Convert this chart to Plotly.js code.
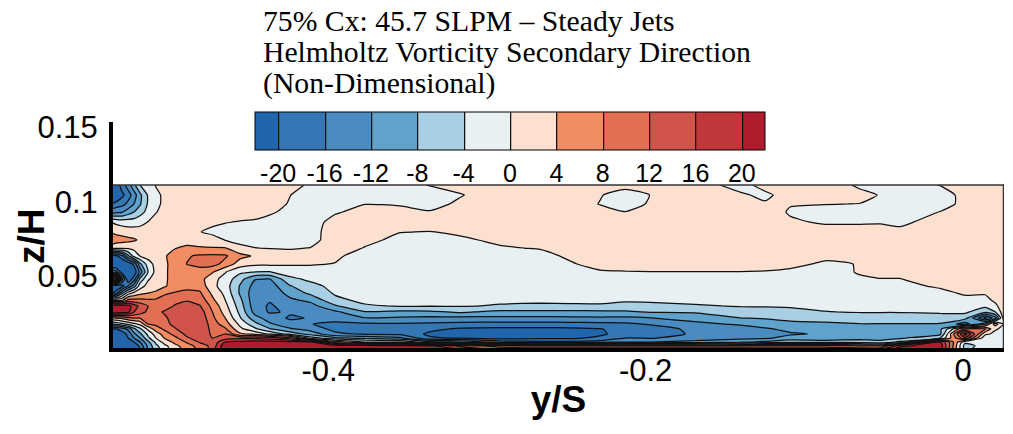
<!DOCTYPE html>
<html><head><meta charset="utf-8">
<script src="https://cdn.plot.ly/plotly-3.0.1.min.js"></script>
<style>html,body{margin:0;padding:0;background:#fff;overflow:hidden}#chart{width:1013px;height:434px}</style>
</head><body><div id="chart"></div>
<script>
var titleLines = ["75% Cx: 45.7 SLPM \u2013 Steady Jets", "Helmholtz Vorticity Secondary Direction", "(Non-Dimensional)"];
var xTickVals = [-0.4, -0.2, 0];
var xTickText = ["-0.4", "-0.2", "0"];
var yTickVals = [0.05, 0.1, 0.15];
var yTickText = ["0.05", "0.1", "0.15"];
var barTickVals = [-20, -16, -12, -8, -4, 0, 4, 8, 12, 16, 20];
var barTickText = ["-20", "-16", "-12", "-8", "-4", "0", "4", "8", "12", "16", "20"];
var bandColors = ["#2166ac", "#3576b5", "#4a8cc1", "#5fa3cd", "#a8cfe4", "#e9f0f4", "#fde0d0", "#f28c62", "#e26f54", "#d1544a", "#c13639", "#b01c2e"];

var spanY = [-0.5369,-0.5337,-0.5299,-0.5261,-0.5224,-0.5186,-0.5135,-0.5085,-0.5028,-0.4965,-0.4890,-0.4808,-0.4732,-0.4650,-0.4556,-0.4461,-0.4367,-0.4241,-0.4115,-0.3957,-0.3768,-0.3548,-0.3359,-0.3169,-0.2917,-0.2665,-0.2476,-0.2287,-0.2130,-0.1972,-0.1689,-0.1405,-0.1248,-0.1090,-0.0870,-0.0649,-0.0523,-0.0397,-0.0145,0.0013,0.0139,0.0202,0.0258];
var heightZ = [0,0.0034,0.0060,0.0087,0.0114,0.0148,0.0181,0.0221,0.0262,0.0302,0.0342,0.0389,0.0436,0.0483,0.0530,0.0584,0.0638,0.0691,0.0745,0.0799,0.0866,0.0933,0.0987,0.1047,0.1114];

// One profile per spanwise station, listed from the wall upward.
var profiles = [
[-26,-26,-26,-26,-24,-21,-8,3,24,24,3,-22,-24,24,-12,-26,-23,1.5,7.5,3.8,0,-14,-20,-26,-25],
[-26,-26,-26,-26,-23,-20,-7,4,23,23,2.5,-18,-24,21,-14,-26,-21,1,6,3,-1,-13,-18.5,-25,-23],
[-26,-26,-26,-24,-22,-18,-5,5,22,23,3,-9,-22,-10,-22,-25,-17,0.8,5.5,2.5,-1.7,-12.3,-17.5,-21,-18],
[-26,-26,-24,-20,-19,-15,-3,7,21,22,9,-2,-16,-24,-25,-23,-9,0.8,5,2,-2,-10,-15,-18,-14],
[-25,-23,-20,-16,-13,-9,-1,8,16,18,9,1,-10,-18,-23,-19,-2.5,1,4.5,2,-2,-8,-12,-14,-9],
[-21,-19,-16,-12,-9,-5,1,8,14,15,9,2.8,-2,-7,-15,-9,0.1,1.5,3.5,2,-1.5,-5.5,-8.5,-9,-4],
[-12,-11,-9,-5,-3,1,8,9,11,12,8.5,4,1.5,-0.5,-4,-2,1.7,2,2.5,2,0.1,-2.8,-3.5,-3.5,-2.3],
[-6,-5,-3,0.1,2,6,9,10,11,11,8.6,4.5,2.8,2,1.5,1.5,3,2.5,2.5,2.5,1.5,-0.2,-1,-1,0.3],
[-2,-1,2,4.5,6,9,11,11.5,12.5,10.5,9.5,7.5,3.6,3.5,3.5,3.5,3.8,3,2.5,2.5,2.5,1.5,1,1,2],
[2,3,5,7,9.5,11.7,13,13.5,14,12.3,11,8.3,6,5.5,5.5,5.3,5,3.9,3,2.5,2.5,2.5,2.5,2.5,2.5],
[5,6,8.5,11.5,13,14,14.5,15,15,14,11.5,8.8,7,6,6.5,8.1,7.6,4.5,3,2.5,2.5,2.5,2.5,2.5,2.5],
[8.5,10,12.5,14,14.5,15,15.5,15,14,12.2,10.5,8.5,6.5,5.5,6.5,9,8.6,4.2,3,0.1,2,2.5,2.5,2.5,2.5],
[14,13,12.5,12,11.5,11,10.2,9,8.2,7,5,3.3,1.3,1.5,4.5,9.4,8.8,4.2,1.5,-0.8,0.8,2.5,2.5,2.5,2.5],
[24,23,20,14,12,8.7,6,4.1,2.5,1.3,0.1,-1,-2,-1.5,0.3,6.8,8.6,4.2,-0.1,-1.3,0.2,2,2.5,2.5,2.5],
[25,24,21,15,4.7,1,-1,-3.6,-5,-6,-7,-8.5,-8.3,-6.5,-3.2,2,5.3,0.8,-1,-1.7,-0.2,1.5,2.5,2.5,2.5],
[25,24,22,15,3,-3.3,-6.7,-10.5,-13.5,-14.5,-14.8,-14.5,-13.5,-11.8,-4.1,0.8,3.5,0.1,-1.5,-1.8,-0.5,1.5,2.5,2.5,2.5],
[25,24,22,14,-0.5,-7.7,-11.5,-14,-16.5,-16.5,-15.7,-15,-14,-12.1,-4.2,0.8,2.5,-0.2,-1.5,-1.7,-1,0.4,2,2.5,2.5],
[25,24,21,10,-5.5,-11.5,-14.5,-16.5,-15.5,-14.2,-12.8,-10.5,-8.3,-5,-2,0.4,1.5,-0.3,-1.7,-2,-1.5,-0.8,-0.4,0.1,2],
[25,23.5,20.5,-1.5,-9.5,-13.5,-15.9,-15.8,-15,-13.7,-11,-7.2,-5.3,-3.2,-1.5,0.3,1.5,0.1,-1.8,-2,-2,-2,-2,-2,-0.8],
[25,23,6,-7,-15,-17.3,-16.7,-14.8,-12.8,-8.5,-5,-3.5,-2.8,-2,-1.5,-0.1,0.5,2,2.5,2.5,1.5,-0.5,-2,-2,-1.5],
[25,22.5,0.1,-9,-16.5,-17.5,-16.6,-12.2,-8.2,-4.5,-3,-2.5,-2.5,-2.5,-2.2,-1.8,-1.2,-0.2,1,2.5,2.5,1.5,-0.1,-2,-1.5],
[24,22,0.1,-11,-17,-18,-16.5,-12.5,-9,-3.7,-3,-2.5,-2.5,-2.5,-2.3,-2,-1.8,-1.5,-1,0.1,2,1.2,-0.4,-2,-1.5],
[23,21,-7,-19.5,-20.8,-18.8,-16.8,-13,-8.7,-3.8,-3,-2.5,-2.5,-2.5,-2.4,-2,-1.8,-1.6,-1.2,-0.1,2,0.3,-1.5,-2,0.2],
[22,15,-8,-20.5,-22,-20.6,-17.2,-13,-7.5,-3.7,-3,-2.7,-2.6,-2.5,-2.4,-2.1,-1.8,-1.6,-0.5,0.5,2.5,2.5,0.8,-0.3,1.5],
[18,10,-14,-21.5,-22.5,-21,-17.5,-13,-9,-4.3,-3.3,-2.8,-2.6,-2.5,-2.3,-1.8,-1.2,-0.3,0.6,2.5,2.5,2.5,2.5,2.5,2.5],
[18,10,-15,-21,-22.5,-21,-17.5,-13,-9,-4.6,-3.3,-2.8,-2.6,-2.5,-2.2,-1.5,-0.9,0.2,1.5,2.5,2.5,2.5,2.5,2.5,2.5],
[18,10,-15,-20.7,-22,-20.8,-17.3,-12.8,-9,-4.5,-3.3,-2.8,-2.6,-2.5,-1.5,-0.3,0.5,1.5,2.5,2.5,2.5,2.5,2.5,2.5,2.5],
[18,10,-14.5,-19,-20.8,-20.2,-17,-12.6,-8.8,-4.4,-3.3,-2.7,-2.4,-1,-0.3,1,2,2.5,2.5,2.5,2.5,1.5,-0.2,0.3,2.5],
[18,10,-12,-16,-18,-18.5,-16.7,-12.8,-8.6,-5.5,-3.3,-2.6,-2.2,-1.2,-0.2,1.5,2.5,2.5,2.5,2.5,2.5,0.1,-2,-2,1.5],
[18,10,-12,-16.3,-17.8,-17.5,-15.7,-12.1,-7.7,-5,-3.4,-2.7,-2,-1,-0.1,1.5,2.5,2.5,2.5,2.5,2.5,2.5,0.5,0.05,2],
[18,10,-11,-14,-15.5,-15.2,-13,-10.5,-7.5,-4.3,-3.2,-2.6,-2,-1,-0.1,1.5,2.5,2.5,2.5,2.5,2.5,2.5,2.5,2.5,2.5],
[18,10,-9,-13,-14.3,-13.8,-11.5,-8.1,-5.7,-3.8,-3,-2.5,-2,-1,-0.1,1.5,2.5,2.5,2.5,2.5,2.5,2.5,2.5,0.8,-2],
[18,10,-7,-12.7,-13.2,-12.5,-10,-7.7,-5.6,-3.7,-3,-2.5,-2,-1,-0.2,1.2,2.5,2.5,2.5,2.5,2.5,2.5,0.6,-1.2,2],
[18,10,-5,-10.5,-12.5,-11,-9,-7,-4.8,-3.7,-3,-2.5,-1.8,-1,-0.5,0.7,2.2,2.5,2.5,2.5,0.7,-0.5,0.3,2.5,2.5],
[18,10,-5,-11.8,-11.5,-10,-8.7,-6.5,-4.1,-3.3,-2.8,-2.3,-1.8,-1.3,-1,-0.4,0.6,2.3,2.5,2,-0.6,-1.8,0.2,2.5,2.5],
[18,8,-6,-9.5,-9.8,-9.2,-8.1,-6,-3.8,-3.2,-2.7,-2.2,-1.7,-0.3,0.2,0.1,2,2.5,2.5,2,-0.6,-2,-0.1,1.2,-0.8],
[18,8,-7,-9.3,-9.7,-9.2,-8.1,-6,-3.8,-3,-2.5,-1.7,-0.8,-0.1,1,2,2.5,2.5,2.5,1.2,-0.3,-2,-2,-0.2,-1.5],
[24,19,-3,-8.7,-9.5,-9,-8.1,-6,-3.8,-3,-2.5,-1.6,-0.8,-0.1,1,2,2.5,2.5,2.5,0.9,-0.8,-2,-2,-2,-1.5],
[20,23,20.5,-4.1,-9,-9,-8.3,-5.5,-3.5,-2.8,-2,-0.8,0.4,1.8,2.5,2.5,2.5,2.5,2.5,2.5,1.5,0.1,-1.5,-1.5,0.1],
[-4.5,-6,-3,15,22,8.5,-14,-6.5,-3.2,-2,-0.8,0.4,1.5,2.2,2.5,2.5,2.5,2.5,2.5,2.5,2.5,2.5,1,1,2.5],
[-2,-2,-2.5,-3,1,8.5,-5,-21,-7,-3,-1.2,0.4,1.5,2.5,2.5,2.5,2.5,2.5,2.5,2.5,2.5,2.5,2.5,2.5,2.5],
[-1.5,-1.5,-1.5,-1.5,-1,0.5,6,-14,-4.1,-1,0.8,1.8,2.3,2.5,2.5,2.5,2.5,2.5,2.5,2.5,2.5,2.5,2.5,2.5,2.5],
[-1,-1,-1,-1,-1,-1,-0.5,2,2.5,2.5,2.5,2.5,2.5,2.5,2.5,2.5,2.5,2.5,2.5,2.5,2.5,2.5,2.5,2.5,2.5]
];
var topEdgeX = [-0.5369, 0.0258];
var topEdgeZ = [0.1114, 0.1114];
var rightEdgeX = [0.0258, 0.0258];
var rightEdgeZ = [0.1114, 0];

var grid = heightZ.map(function (_, r) { return profiles.map(function (p) { return p[r]; }); });
var colorscale = bandColors.map(function (c, i) { return [i / (bandColors.length - 1), c]; });

var field = {
  type: "contour", x: spanY, y: heightZ, z: grid,
  autocontour: false, zmin: -22, zmax: 22,
  contours: {start: -20, end: 20, size: 4, coloring: "fill", showlines: true},
  line: {color: "#111", width: 1.25, smoothing: 0.5},
  colorscale: colorscale, hoverinfo: "skip",
  colorbar: {
    orientation: "h", lenmode: "pixels", len: 510, thicknessmode: "pixels", thickness: 38,
    xanchor: "left", x: (255 - 113) / 891, yanchor: "top", y: (348 - 112) / 226,
    xpad: 0, ypad: 0, outlinecolor: "#000", outlinewidth: 1,
    tickmode: "array", tickvals: barTickVals, ticktext: barTickText,
    ticks: "outside", ticklen: 2, tickcolor: "rgba(0,0,0,0)",
    tickfont: {family: "Liberation Sans", size: 25, color: "#000"}
  }
};
var topEdge = {
  type: "scatter", mode: "lines", x: topEdgeX, y: topEdgeZ, cliponaxis: false,
  line: {color: "#333", width: 1.5}, showlegend: false, hoverinfo: "skip"
};
var rightEdge = {
  type: "scatter", mode: "lines", x: rightEdgeX, y: rightEdgeZ, cliponaxis: false,
  line: {color: "#333", width: 2.5}, showlegend: false, hoverinfo: "skip"
};
var axisFont = {family: "Liberation Sans", size: 31, color: "#000"};
var axisTitleFont = {family: "Liberation Sans", size: 37, color: "#000"};
var titleNotes = titleLines.map(function (t, i) {
  return {
    text: t, xref: "paper", yref: "paper", xanchor: "left", yanchor: "middle", showarrow: false,
    x: (261 - 113) / 891, y: (348 - [21, 52, 83][i]) / 226,
    font: {family: "Liberation Serif", size: 29.7, color: "#000"}
  };
});
var yTitleNote = {
  text: "<b>z/H</b>", xref: "paper", yref: "paper", xanchor: "center", yanchor: "middle", showarrow: false,
  x: (31 - 113) / 891, y: (348 - 236) / 226, textangle: -90, font: axisTitleFont
};
var layout = {
  width: 1013, height: 434, paper_bgcolor: "#fff", plot_bgcolor: "#fff", showlegend: false,
  margin: {l: 113, r: 9, t: 122, b: 86, pad: 0},
  font: {family: "Liberation Sans", color: "#000"},
  xaxis: {
    range: [-0.5356, 0.0258], showgrid: false, zeroline: false, showline: true, linewidth: 4, linecolor: "#000",
    tickmode: "array", tickvals: xTickVals, ticktext: xTickText, ticks: "", ticklabelstandoff: -8,
    tickfont: axisFont,
    title: {text: "<b>y/S</b>", font: axisTitleFont, standoff: 0}
  },
  yaxis: {
    range: [0.002, 0.1537], showgrid: false, zeroline: false, showline: true, linewidth: 4, linecolor: "#000",
    tickmode: "array", tickvals: yTickVals, ticktext: yTickText, ticks: "outside", ticklen: 5, tickcolor: "rgba(0,0,0,0)",
    tickfont: axisFont
  },
  annotations: titleNotes.concat([yTitleNote])
};
Plotly.newPlot("chart", [field, topEdge, rightEdge], layout, {displayModeBar: false, responsive: false});
</script></body></html>
